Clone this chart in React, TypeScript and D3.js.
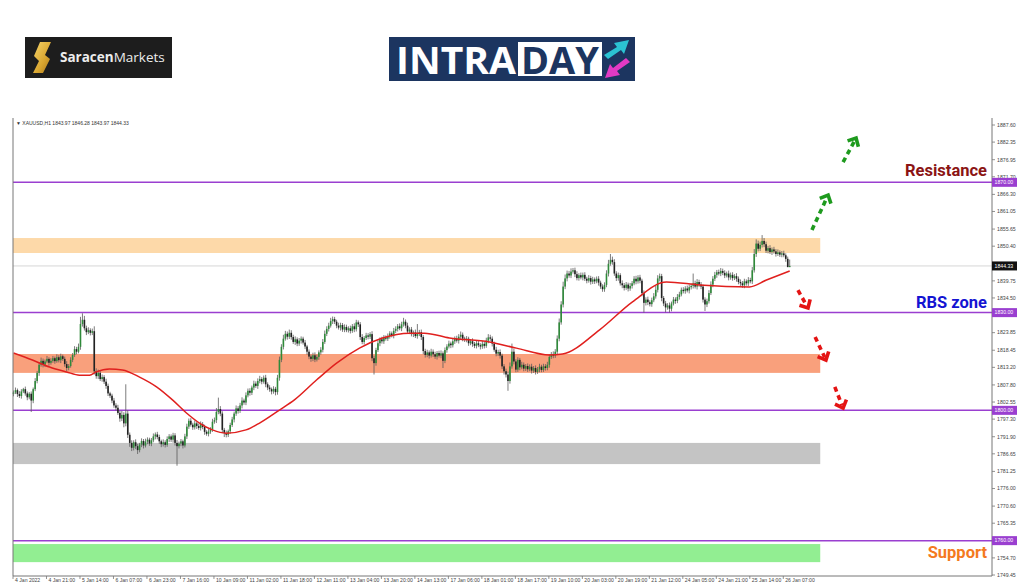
import React from 'react';
import * as d3 from 'd3';

// ---- data ----
const firstOpen = 1805.0;
const closes = [
  1805.5,1806.2,1805.0,1804.4,1805.8,1806.5,1805.2,1804.0,1805.1,1803.0,
  1806.5,1809.0,1811.5,1814.0,1815.2,1814.0,1815.0,1815.8,1814.6,1815.2,
  1816.0,1815.1,1816.3,1815.4,1816.6,1815.8,1814.2,1813.0,1813.6,1815.5,
  1817.0,1818.8,1818.0,1819.5,1826.5,1827.8,1825.2,1824.0,1824.6,1823.8,
  1824.3,1812.0,1810.5,1811.5,1809.6,1810.2,1808.8,1807.5,1805.2,1804.5,
  1803.0,1801.5,1800.8,1799.2,1797.5,1798.6,1796.0,1799.0,1792.5,1790.0,
  1788.5,1790.2,1789.0,1787.8,1789.5,1790.6,1789.2,1790.4,1791.0,1789.8,
  1790.8,1792.0,1792.6,1791.8,1790.5,1789.6,1790.2,1789.4,1791.2,1792.0,
  1791.0,1792.3,1790.0,1789.0,1789.8,1790.5,1789.2,1792.0,1795.0,1796.8,
  1795.6,1794.8,1796.0,1795.2,1794.6,1795.8,1794.9,1793.4,1792.8,1793.5,
  1794.2,1796.5,1797.0,1799.5,1800.4,1799.0,1794.0,1793.0,1792.5,1793.6,
  1795.5,1797.2,1799.0,1800.6,1799.8,1801.5,1803.0,1802.4,1804.6,1806.0,
  1805.4,1807.0,1808.2,1807.5,1809.0,1809.6,1808.8,1810.0,1808.0,1807.0,
  1806.5,1805.8,1806.6,1805.6,1810.0,1815.5,1819.5,1822.0,1823.5,1822.6,
  1823.8,1822.5,1821.0,1821.8,1820.5,1821.4,1822.0,1820.8,1819.6,1818.0,
  1816.5,1815.8,1816.9,1815.6,1816.4,1817.8,1818.6,1821.0,1823.5,1825.0,
  1826.0,1827.4,1828.0,1827.2,1826.0,1825.4,1826.2,1824.8,1825.6,1824.6,
  1825.2,1824.4,1825.8,1824.9,1827.0,1826.4,1822.5,1821.0,1822.2,1823.0,
  1822.6,1823.4,1816.0,1814.5,1818.5,1820.6,1821.8,1821.2,1822.4,1822.0,
  1822.8,1823.6,1823.0,1824.4,1825.0,1825.8,1825.2,1826.4,1827.2,1826.0,
  1824.2,1824.8,1823.4,1823.9,1822.8,1823.5,1824.0,1822.5,1818.2,1817.0,
  1817.8,1816.8,1818.0,1817.2,1816.5,1817.6,1816.8,1817.5,1815.2,1818.5,
  1819.6,1820.5,1820.0,1821.2,1822.0,1821.4,1822.6,1823.2,1822.0,1821.6,
  1822.0,1820.6,1821.2,1820.4,1819.8,1820.6,1820.0,1819.6,1820.4,1819.8,
  1821.4,1822.4,1822.0,1820.5,1818.6,1817.4,1817.9,1816.8,1813.5,1812.0,
  1811.0,1809.0,1813.5,1818.0,1815.0,1812.5,1815.5,1813.2,1814.0,1812.8,
  1813.6,1812.6,1813.4,1812.2,1813.0,1811.8,1812.6,1813.4,1812.4,1813.5,
  1813.0,1814.0,1816.4,1817.2,1816.8,1818.0,1822.0,1827.0,1832.5,1838.0,
  1840.5,1842.0,1841.4,1842.6,1843.0,1841.8,1840.6,1841.5,1840.8,1841.6,
  1840.4,1839.8,1840.6,1839.5,1840.2,1839.6,1840.4,1839.2,1838.0,1837.2,
  1838.5,1842.0,1845.0,1846.2,1845.5,1842.0,1840.6,1841.5,1839.0,1838.4,
  1837.6,1838.6,1837.4,1838.2,1839.0,1840.4,1839.6,1840.8,1839.8,1836.0,
  1833.0,1834.0,1833.2,1832.6,1833.8,1835.0,1837.0,1840.5,1841.2,1834.5,
  1832.8,1831.6,1832.2,1831.2,1832.8,1834.0,1833.6,1834.8,1835.6,1837.0,
  1836.6,1837.4,1836.8,1837.8,1838.2,1839.0,1838.0,1839.4,1838.6,1838.0,
  1834.0,1832.5,1833.5,1836.0,1838.6,1840.4,1841.6,1842.4,1842.0,1842.8,
  1842.2,1841.4,1842.0,1840.8,1841.6,1840.6,1841.2,1840.4,1839.4,1839.0,
  1838.4,1839.6,1839.0,1840.0,1839.6,1843.0,1848.0,1851.2,1849.6,1850.8,
  1852.0,1851.0,1849.0,1849.8,1848.6,1849.4,1848.8,1848.0,1848.5,1847.8,
  1848.2,1847.6,1846.5,1843.97,1844.33,
];
const wickUp = [
  .6,.8,.5,.9,.7,.4,.8,.6,.5,.7, .5,.9,.6,.8,1.0,.7,.6,.9,.5,.8,
  .7,.5,.9,.6,.8,.5,.7,.9,.6,.8, .6,.9,.7,1.0,2.2,2.0,1.2,.8,.9,.6,
  .8,1.5,.9,1.0,.7,.8,.6,.9,.7,.5, .6,.8,.7,.9,.6,1.2,.8,9.0,1.0,.7,
  .8,.6,.9,.7,.5,.8,.6,.9,.7,.6, .7,.9,.6,.8,.7,.5,.9,.6,.8,.7,
  .6,.8,.7,.9,.6,.7,.5,.8,.9,.7, .8,.6,.9,.5,.7,.8,.6,.7,.5,.8,
  .6,.9,.8,1.2,3.5,.9,.7,.6,.8,.5, .7,.8,.6,.9,.7,.8,1.0,.6,.9,.7,
  .8,.6,.9,.7,.8,1.0,.6,.7,.9,.6, .7,.5,.8,.6,.9,1.0,.8,1.2,.9,.7,
  1.0,.8,.7,.9,.6,.8,.7,.6,.8,.5, .7,.6,.8,.9,.7,.6,.8,.9,1.0,.8,
  .9,1.0,.8,.7,.6,.9,.7,.6,.8,.7, .6,.8,.7,.9,.8,.6,.7,.9,.6,.8,
  .7,.6,.9,.8,.7,.9,.6,.8,.7,.6, .8,.7,.6,.9,.8,.7,.9,.8,1.2,.7,
  .9,.7,.8,.6,.9,3.0,.7,.8,.6,.7, .8,.6,.9,.7,.8,.6,.7,.9,.6,.8,
  .7,.9,.6,.8,.7,.9,.8,1.0,.7,.6, .8,.6,.7,.9,.6,.8,.7,.6,.9,.7,
  .9,1.0,.8,.7,.6,.9,.7,.8,.6,.7, .8,.9,1.2,2.5,.9,.7,.8,.6,.9,.7,
  .6,.8,.7,.9,.6,.8,.7,.9,.6,.8, .7,.9,.8,.7,.9,.8,1.0,1.2,1.0,1.5,
  1.2,.9,.8,1.0,.7,.8,.9,.6,.8,.7, .8,.6,.9,.7,.8,.6,.7,.8,.6,.7,
  .8,1.0,1.2,1.8,1.0,.9,.7,.8,.6,.9, .7,.8,.6,.9,.7,.8,.9,.7,.8,.6,
  .8,.7,.9,.6,.8,1.0,1.2,1.0,.8,.7, .6,.8,.7,.9,.6,.8,.7,.9,.8,.7,
  .8,.7,.9,.8,.7,3.0,.8,.9,.7,.8, .6,.7,.8,.9,1.0,.8,.9,.7,.8,.9,
  .7,.8,.6,.9,.7,.8,.6,.9,.7,.8, .7,.8,.6,.9,.7,1.0,1.5,1.3,.9,1.0,
  1.8,.9,.8,.7,.9,.6,.8,.7,.9,.6, .7,.8,.6,.7,1.95,
];
const wickDn = [
  .7,.5,.9,.6,.8,.5,.7,.9,.6,3.5, .8,.6,.7,.9,.6,.8,.7,.5,.9,.6,
  .6,.8,.5,.7,.9,.6,.8,1.0,.7,.5, .7,.6,.8,.5,.9,.8,.7,.9,.6,.8,
  .7,1.0,.8,.9,.6,.8,.7,.9,.8,.7, .8,.7,.9,.6,1.0,.8,1.2,.9,1.0,1.2,
  1.0,.8,.9,1.2,.7,.8,.9,.6,.8,.7, .8,.6,.9,.7,.8,.9,.7,.8,.6,.9,
  .7,.9,.8,6.0,.7,.8,.9,.6,.8,.7, .6,.8,.7,.9,.6,.8,.7,.9,.6,.8,
  .7,.8,.6,.9,.7,.8,1.0,1.2,.8,.7, .8,.6,.9,.7,.8,.6,.9,.7,.8,.6,
  .9,.7,.8,.6,.9,.7,.8,.6,.9,.8, .8,.9,.7,1.0,.8,.9,.7,.8,.6,.9,
  .7,.8,.6,.9,.8,.7,.9,.6,.8,.9, .8,.9,.7,.8,.6,.9,.7,.8,.6,.7,
  .8,.6,.9,.7,.8,.6,.9,.7,.8,.6, .7,.8,.6,.9,.7,.8,.9,.7,.8,.6,
  .8,.7,.9,3.5,.8,.6,.9,.7,.8,.6, .7,.8,.6,.9,.7,.8,.6,.9,.7,.8,
  .6,.8,.7,.9,.6,.8,.7,.9,1.0,.8, .7,.9,.6,.8,.7,.9,.6,.8,2.2,.7,
  .8,.6,.9,.7,.8,.6,.9,.7,.8,.6, .7,.8,.6,.9,.7,.8,.6,.9,.7,.8,
  .6,.8,.7,.9,.6,.8,.7,.9,.8,1.0, .9,3.0,.8,.7,.9,.8,.7,.9,.6,.8,
  .7,.8,.6,.9,.7,.8,.6,.9,.7,.6, .8,.7,.9,.6,.8,.7,.9,.8,.7,.9,
  .8,.9,.7,.8,.6,.9,.7,.8,.6,.9, .7,.8,.6,.9,.7,.8,.6,.9,.7,.8,
  .8,.7,.9,.6,.8,.7,.9,.8,.7,.9, .8,.6,.9,.7,.8,.6,.9,.7,.8,1.0,
  3.0,.8,.9,.7,.8,.6,.7,.8,.9,1.0, .8,1.5,.7,1.2,.8,.6,.9,.7,.8,.6,
  .7,.8,.6,.9,.7,.8,.6,.9,.7,.8, .9,2.0,.8,.7,.6,.8,.7,.9,.6,.8,
  .7,.8,.6,.9,.7,.8,.6,.9,.7,.8, .8,.9,.7,.8,.6,.8,.7,.9,.8,.7,
  .8,.9,.7,.8,.6,.9,.7,.8,.6,.7, .8,.6,.9,0,0,
];
// moving average (red line) read at bar positions
const maIdx = [0, 9.6, 18.3, 26.9, 33.5, 38.6, 42, 48.7, 55.3, 64, 72.6, 80.7, 87.8, 94.4, 101, 108, 118, 124.9, 135, 142.6, 153.8, 164, 175.6, 187.3, 201, 208.6, 221.3, 241.6, 255.3, 272, 278.7, 297.5, 314.2, 331.5, 348.2, 373.6, 382.2, 394];
const maVal = [1817.6, 1815.45, 1813.3, 1811.8, 1810.8, 1810.8, 1811.8, 1812.7, 1812.4, 1810.2, 1807.2, 1803.2, 1799.2, 1796.1, 1794.0, 1793.0, 1794.0, 1796.1, 1800.1, 1803.2, 1809.3, 1814.5, 1819.1, 1822.2, 1823.7, 1823.7, 1822.2, 1821.0, 1819.1, 1817.0, 1817.3, 1824.7, 1833.3, 1839.4, 1838.5, 1837.9, 1840.0, 1842.8];

const xLabels = ['4 Jan 2022','4 Jan 21:00','5 Jan 14:00','6 Jan 07:00','6 Jan 23:00','7 Jan 16:00','10 Jan 09:00','11 Jan 02:00','11 Jan 18:00','12 Jan 11:00','13 Jan 04:00','13 Jan 20:00','14 Jan 13:00','17 Jan 06:00','18 Jan 01:00','18 Jan 17:00','19 Jan 10:00','20 Jan 03:00','20 Jan 19:00','21 Jan 12:00','24 Jan 05:00','24 Jan 21:00','25 Jan 14:00','26 Jan 07:00'];
const yTicks = ['1887.60','1882.35','1876.95','1871.70','1866.30','1861.05','1855.65','1850.40','1839.75','1834.50','1823.85','1818.45','1813.20','1807.80','1802.55','1797.30','1791.90','1786.65','1781.25','1776.00','1770.60','1765.35','1754.70','1749.45'];
const levels = [1870, 1830, 1800, 1760];
const lastPrice = 1844.33;
const zoneNames = ['peach', 'salmon', 'grey', 'green'];
const zoneLo = [1848.3, 1811.5, 1783.5, 1753.4];
const zoneHi = [1852.9, 1817.3, 1790.0, 1758.95];
const zoneColors = ['#fdd9a9', '#f9a07c', '#c4c4c4', '#92ee92'];
// arrows in [bar, price]
const arrowsUp = [[405.3, 1855.4, 413.5, 1866.1], [421.1, 1876.2, 427.7, 1883.6]];
const arrowsDown = [[398.2, 1836.9, 403.3, 1831.4], [406.9, 1822.5, 412.4, 1815.45], [416.9, 1807.2, 421.1, 1800.7]];

const x = d3.scaleLinear().domain([0, 394]).range([13.5, 789.7]);
const y = d3.scaleLinear().domain([1749.45, 1887.6]).range([575, 125]);

const PL = 13, PR = 992, PT = 118, PB = 576;
const axisFont = 'Liberation Sans, Arial, sans-serif';

function Arrow({ a, color }: { a: number[]; color: string }) {
  const x1 = x(a[0]), y1 = y(a[1]), x2 = x(a[2]), y2 = y(a[3]);
  const ang = Math.atan2(y2 - y1, x2 - x1);
  const L = 9, spread = 0.75;
  const p1 = [x2 - L * Math.cos(ang - spread), y2 - L * Math.sin(ang - spread)];
  const p2 = [x2 - L * Math.cos(ang + spread), y2 - L * Math.sin(ang + spread)];
  return (
    <g stroke={color} strokeWidth={3.6} fill="none">
      <line x1={x1} y1={y1} x2={x2 - 3 * Math.cos(ang)} y2={y2 - 3 * Math.sin(ang)} strokeDasharray="5,4" />
      <polyline points={`${p1[0]},${p1[1]} ${x2},${y2} ${p2[0]},${p2[1]}`} strokeLinejoin="miter" />
    </g>
  );
}

export default function App() {
  const candles = closes.map((c, i) => {
    const o = i === 0 ? firstOpen : closes[i - 1];
    const h = Math.max(o, c) + wickUp[i];
    const l = Math.min(o, c) - wickDn[i];
    return { i, o, c, h, l };
  });
  const maLine = d3.line<number>().x((_, k) => x(maIdx[k])).y((v) => y(v)).curve(d3.curveMonotoneX);
  const zoneEnd = x(409.5);
  return (
    <svg width={1024} height={587} style={{ position: 'absolute', left: 0, top: 0, background: '#fff' }}>
      <rect x={0} y={0} width={1024} height={587} fill="#fff" />
      {/* logos */}
      <g>
        <rect x={25} y={37} width={147} height={41} fill="#1d1d1d" />
        <defs>
          <linearGradient id="gold" x1="0" y1="0" x2="1" y2="1">
            <stop offset="0" stopColor="#f7d56b" />
            <stop offset="0.6" stopColor="#d9a630" />
            <stop offset="1" stopColor="#a8761a" />
          </linearGradient>
        </defs>
        <path d="M40,42 L51,42 L45,55 L50,59 L43,73 L33,73 L39,61 L34,56 Z" fill="url(#gold)" />
        <text x={60} y={62} fontFamily="Open Sans, sans-serif" fontSize={13.5} fill="#ececec">
          <tspan fontWeight={700}>Saracen</tspan><tspan fontWeight={400}>Markets</tspan>
        </text>
      </g>
      <g>
        <rect x={389} y={37} width={246} height={44} fill="#1c3560" />
        <text x={396} y={74} fontFamily="Open Sans, sans-serif" fontWeight={700} fontSize={37} fill="#fff" textLength={120} lengthAdjust="spacingAndGlyphs">INTRA</text>
        <rect x={518} y={42} width={84} height={34} fill="#fff" />
        <text x={521} y={74} fontFamily="Open Sans, sans-serif" fontWeight={700} fontSize={37} fill="#1c3560" textLength={78} lengthAdjust="spacingAndGlyphs">DAY</text>
        <path d="M604,55 L617,47 L614,43 L629,40 L624,54 L621,50 L608,59 Z" fill="#2bc3d3" />
        <path d="M630,62 L617,71 L620,75 L605,78 L610,64 L613,68 L626,58 Z" fill="#e23ac4" />
      </g>

      {/* chart header */}
      <text x={16} y={125} fontFamily={axisFont} fontSize={5} fill="#333">▼ XAUUSD,H1  1843.97 1846.28 1843.97 1844.33</text>

      {/* zones */}
      {zoneNames.map((n, k) => (
        <rect key={n} x={PL} y={y(zoneHi[k])} width={zoneEnd - PL} height={y(zoneLo[k]) - y(zoneHi[k])} fill={zoneColors[k]} />
      ))}

      {/* current price line */}
      <line x1={PL} x2={PR} y1={y(lastPrice)} y2={y(lastPrice)} stroke="#d6d6d6" strokeWidth={1} />
      {/* level lines */}
      {levels.map((v) => (
        <line key={v} x1={PL} x2={PR} y1={y(v)} y2={y(v)} stroke="#9a3fd0" strokeWidth={1.5} />
      ))}

      {/* candles */}
      {candles.map((d) => {
        const top = y(Math.max(d.o, d.c));
        const hgt = Math.max(0.8, Math.abs(y(d.o) - y(d.c)));
        const bull = d.c >= d.o;
        return (
          <g key={d.i}>
            <line x1={x(d.i)} x2={x(d.i)} y1={y(d.h)} y2={y(d.l)} stroke="#5a5a5a" strokeWidth={0.8} />
            <rect x={x(d.i) - 0.8} y={top} width={1.6} height={hgt} fill={bull ? '#2f8a3a' : '#222'} />
          </g>
        );
      })}

      {/* moving average */}
      <path d={maLine(maVal) || ''} fill="none" stroke="#e0201e" strokeWidth={1.5} />

      {/* frame and axes */}
      <line x1={PL} x2={PL} y1={PT} y2={PB} stroke="#777" strokeWidth={1} />
      <line x1={PR} x2={PR} y1={PT} y2={PB} stroke="#777" strokeWidth={1} />
      <line x1={PL} x2={PR} y1={PB} y2={PB} stroke="#777" strokeWidth={1} />
      {yTicks.map((t) => (
        <g key={t}>
          <line x1={PR} x2={PR + 3} y1={y(+t)} y2={y(+t)} stroke="#777" strokeWidth={0.8} />
          <text x={PR + 5} y={y(+t)} dy="0.35em" fontFamily={axisFont} fontSize={5.2} fill="#444">{t}</text>
        </g>
      ))}
      {xLabels.map((t, k) => {
        const xx = x(17 * k) - 0.5;
        return (
          <g key={t}>
            <line x1={xx} x2={xx} y1={PB} y2={PB + 3} stroke="#777" strokeWidth={0.8} />
            <text x={xx + 2} y={PB + 6} fontFamily={axisFont} fontSize={5.1} fill="#444">{t}</text>
          </g>
        );
      })}
      {/* level price boxes */}
      {levels.map((v) => (
        <g key={'b' + v}>
          <rect x={PR} y={y(v) - 4.5} width={25} height={9} fill="#9a3fd0" />
          <text x={PR + 2.5} y={y(v)} dy="0.35em" fontFamily={axisFont} fontSize={5.2} fill="#fff">{v.toFixed(2)}</text>
        </g>
      ))}
      <rect x={PR} y={y(lastPrice) - 4.5} width={25} height={9} fill="#111" />
      <text x={PR + 2.5} y={y(lastPrice)} dy="0.35em" fontFamily={axisFont} fontSize={5.2} fill="#fff">{lastPrice.toFixed(2)}</text>

      {/* arrows */}
      {arrowsUp.map((a, k) => <Arrow key={'u' + k} a={a} color="#1e9a1e" />)}
      {arrowsDown.map((a, k) => <Arrow key={'d' + k} a={a} color="#e41414" />)}

      {/* annotations */}
      <text x={987} y={176} textAnchor="end" fontFamily="Roboto, sans-serif" fontWeight={700} fontSize={16.5} fill="#8b1414">Resistance</text>
      <text x={987} y={308} textAnchor="end" fontFamily="Roboto, sans-serif" fontWeight={700} fontSize={16.5} fill="#1414d2">RBS zone</text>
      <text x={987} y={558} textAnchor="end" fontFamily="Roboto, sans-serif" fontWeight={700} fontSize={16.5} fill="#f47a1e">Support</text>
    </svg>
  );
}
